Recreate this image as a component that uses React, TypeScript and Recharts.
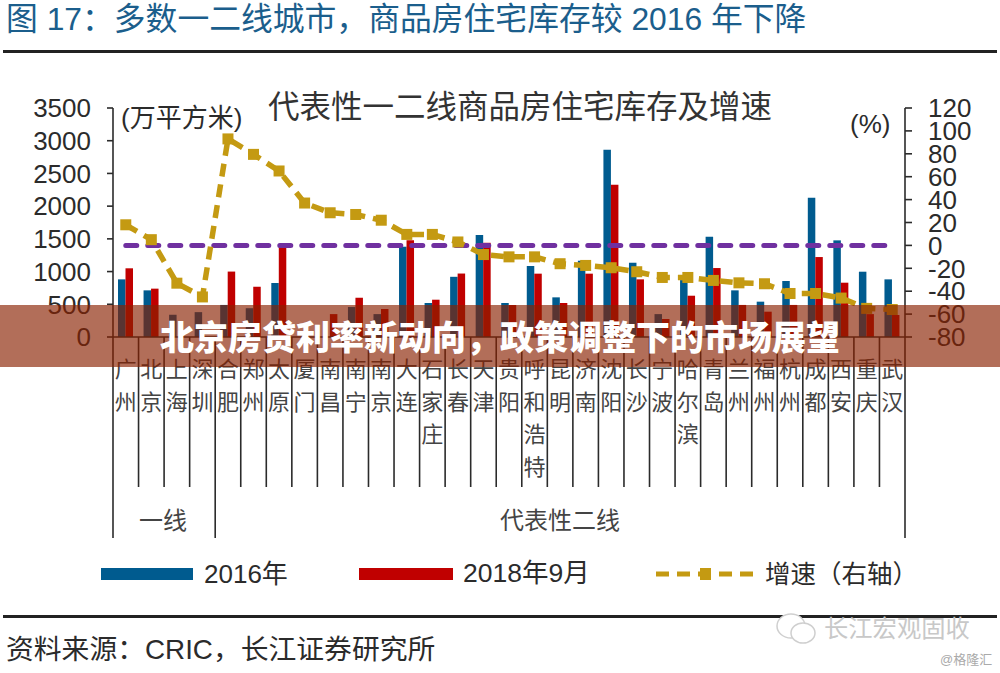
import React from 'react';
import { ComposedChart, Bar, Line, XAxis, YAxis } from 'recharts';

const cities = ['广州','北京','上海','深圳','合肥','郑州','太原','厦门','南昌','南宁','南京','大连','石家庄','长春','天津','贵阳','呼和浩特','昆明','济南','沈阳','长沙','宁波','哈尔滨','青岛','兰州','福州','杭州','成都','西安','重庆','武汉'];
const stock2016 = [881,713,340,380,490,440,825,0,0,458,350,1380,520,920,1558,520,1085,606,1166,2862,1135,350,870,1533,713,540,856,2128,1477,998,881];
const stock2018 = [1050,739,0,0,1000,769,1380,0,350,600,428,1480,570,970,1440,490,968,520,968,2327,881,275,631,1054,490,387,490,1222,830,350,336];
const growth = [18,5,-33,-45,93,79.5,65,37,28.5,27,22,9.6,9.6,3,-8,-10,-10,-16,-17.5,-19.5,-23,-28,-28,-30.6,-32.7,-33.5,-42,-42,-46,-55,-56];
const zeroLine = cities.map(() => 0);
const leftTicks = [0,500,1000,1500,2000,2500,3000,3500];
const rightTicks = [-80,-60,-40,-20,0,20,40,60,80,100,120];

const chartData = cities.map((city, i) => ({
  city,
  stock2016: stock2016[i],
  stock2018: stock2018[i],
  growth: growth[i],
  zero: zeroLine[i],
}));

const SANS = '"Liberation Sans","Noto Sans CJK SC",sans-serif';
const INK = '#2b2b2b';
const BLUE = '#005B8F';
const RED = '#C00000';
const GOLD = '#C49A12';
const PURPLE = '#7030A0';

// first city of each group gets a long separator
const groupStarts = [0, 4];

const CityTick = (props: any) => {
  const { x, index, payload } = props;
  const band = 792 / cities.length;
  const top = 337;
  const left = x - band / 2;
  const long = groupStarts.includes(index);
  const last = index === cities.length - 1;
  return (
    <g>
      <line x1={left} x2={left} y1={top} y2={long ? 538 : 487} stroke={INK} strokeWidth={1.6} />
      {last && <line x1={left + band} x2={left + band} y1={top} y2={538} stroke={INK} strokeWidth={1.6} />}
      {String(payload.value).split('').map((ch, i) => (
        <text key={i} x={x} y={377 + i * 32.5} textAnchor="middle" fontSize={22} fontFamily={SANS} fill="#444">{ch}</text>
      ))}
    </g>
  );
};

const SquareDot = (props: any) => {
  const { cx, cy, index } = props;
  return <rect key={index} x={cx - 5.5} y={cy - 5.5} width={11} height={11} fill={GOLD} />;
};

const Label = ({ x, y, size, children, color = INK, style }: any) => (
  <div style={{ position: 'absolute', left: x, top: y - size * 0.75, fontSize: size, lineHeight: `${size * 1.5}px`, color, whiteSpace: 'nowrap', fontFamily: SANS, ...style }}>
    {children}
  </div>
);

const App = () => (
  <div style={{ position: 'fixed', left: 0, top: 0, width: 1000, height: 673, background: '#fff', overflow: 'hidden' }}>
    <ComposedChart
      width={1000}
      height={673}
      data={chartData}
      margin={{ top: 108, right: 0, bottom: 0, left: 0 }}
      barSize={7.5}
      barGap={0}
    >
      <XAxis
        dataKey="city"
        xAxisId="city"
        height={336}
        interval={0}
        tick={<CityTick />}
        tickLine={false}
        axisLine={{ stroke: INK, strokeWidth: 1.6 }}
      />
      <YAxis
        yAxisId="left"
        width={113}
        domain={[0, 3500]}
        ticks={leftTicks}
        interval={0}
        tickSize={6}
        tickMargin={16}
        tick={{ fontSize: 26, fontFamily: SANS, fill: INK }}
        tickLine={{ stroke: INK, strokeWidth: 1.6 }}
        axisLine={{ stroke: INK, strokeWidth: 1.6 }}
      />
      <YAxis
        yAxisId="right"
        orientation="right"
        width={95}
        domain={[-80, 120]}
        ticks={rightTicks}
        interval={0}
        tickSize={7}
        tickMargin={16}
        tick={{ fontSize: 26, fontFamily: SANS, fill: INK }}
        tickLine={{ stroke: INK, strokeWidth: 1.6 }}
        axisLine={{ stroke: INK, strokeWidth: 1.6 }}
      />
      <Bar xAxisId="city" yAxisId="left" dataKey="stock2016" fill={BLUE} isAnimationActive={false} />
      <Bar xAxisId="city" yAxisId="left" dataKey="stock2018" fill={RED} isAnimationActive={false} />
      <Line xAxisId="city" yAxisId="right" dataKey="zero" stroke={PURPLE} strokeWidth={5} strokeDasharray="11 11" strokeLinecap="round" dot={false} isAnimationActive={false} />
      <Line xAxisId="city" yAxisId="right" dataKey="growth" stroke={GOLD} strokeWidth={5.5} strokeDasharray="13 8" dot={<SquareDot />} isAnimationActive={false} />
    </ComposedChart>

    {/* heading and rules */}
    <Label x={6} y={20} size={31.8} color="#1B5E8C">图 17：多数一二线城市，商品房住宅库存较 2016 年下降</Label>
    <div style={{ position: 'absolute', left: 3, width: 994, top: 50, height: 3, background: '#222' }} />
    <Label x={268} y={108} size={31.5} color="#333">代表性一二线商品房住宅库存及增速</Label>
    <Label x={121} y={118} size={26}>(万平方米)</Label>
    <Label x={850} y={124} size={26}>(%)</Label>
    <Label x={139} y={521} size={24} color="#444">一线</Label>
    <Label x={500} y={521} size={24} color="#444">代表性二线</Label>

    {/* legend */}
    <div style={{ position: 'absolute', left: 101, top: 568, width: 92, height: 12, background: BLUE }} />
    <Label x={204} y={574} size={26}>2016年</Label>
    <div style={{ position: 'absolute', left: 359, top: 568, width: 94, height: 12, background: RED }} />
    <Label x={463} y={574} size={26.5}>2018年9月</Label>
    <svg style={{ position: 'absolute', left: 650, top: 564, width: 110, height: 20 }}>
      <line x1={6} x2={104} y1={10} y2={10} stroke={GOLD} strokeWidth={5} strokeDasharray="13 8" />
      <rect x={50} y={4} width={11} height={12} fill={GOLD} />
    </svg>
    <Label x={765} y={574} size={25.5}>增速（右轴）</Label>

    <div style={{ position: 'absolute', left: 3, width: 994, top: 615, height: 3, background: '#222' }} />
    <Label x={6} y={650} size={27.8}>资料来源：CRIC，长江证券研究所</Label>

    {/* watermark */}
    <svg style={{ position: 'absolute', left: 775, top: 612, width: 46, height: 36 }}>
      <ellipse cx={16} cy={14} rx={14} ry={12} fill="#fff" stroke="#cfcfcf" strokeWidth={1.5} />
      <ellipse cx={28} cy={21} rx={12} ry={10} fill="#fff" stroke="#cfcfcf" strokeWidth={1.5} />
    </svg>
    <Label x={824} y={629} size={24.3} color="#c8c8c8">长江宏观固收</Label>
    <Label x={940} y={660} size={13} color="#aaa">@格隆汇</Label>

    {/* headline banner over the chart */}
    <div style={{ position: 'absolute', left: 0, width: 1000, top: 305, height: 62, background: 'rgba(137,32,0,0.65)' }} />
    <div style={{ position: 'absolute', left: 0, width: 1000, top: 305, height: 62, lineHeight: '62px', textAlign: 'center', color: '#fff', fontSize: 34, fontWeight: 900, fontFamily: '"Noto Sans CJK SC",sans-serif', whiteSpace: 'nowrap' }}>
      北京房贷利率新动向，政策调整下的市场展望
    </div>
  </div>
);

export default App;
